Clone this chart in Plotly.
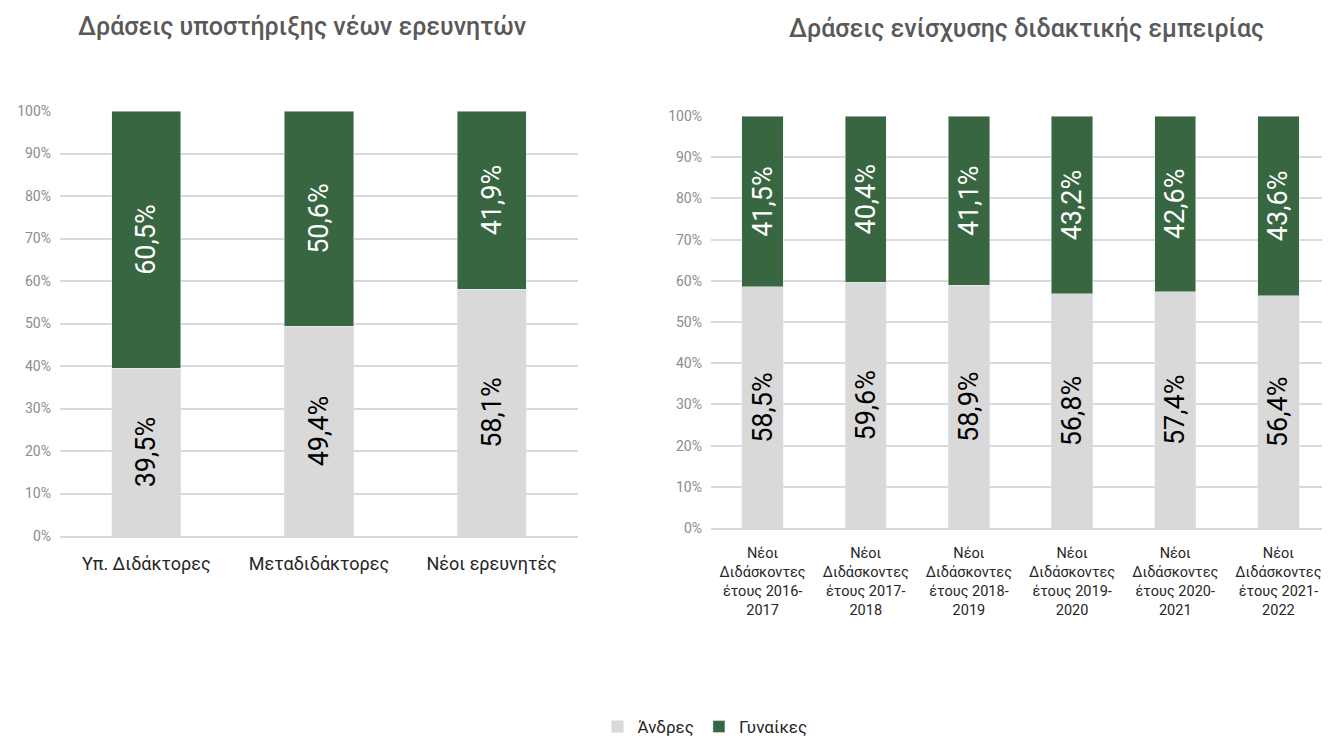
import plotly.graph_objects as go
from plotly.subplots import make_subplots

OFF = 8  # page body margin, positions below are screen pixels
W, H = 1330 - OFF, 745 - OFF

# left panel: support for young researchers
left_title = "Δράσεις υποστήριξης νέων ερευνητών"
left_cats = ["Υπ. Διδάκτορες", "Μεταδιδάκτορες", "Νέοι ερευνητές"]
left_men = [39.5, 49.4, 58.1]
left_women = [60.5, 50.6, 41.9]

# right panel: teaching experience
right_title = "Δράσεις ενίσχυσης διδακτικής εμπειρίας"
right_cats = [
    "Νέοι<br>Διδάσκοντες<br>έτους 2016-<br>2017",
    "Νέοι<br>Διδάσκοντες<br>έτους 2017-<br>2018",
    "Νέοι<br>Διδάσκοντες<br>έτους 2018-<br>2019",
    "Νέοι<br>Διδάσκοντες<br>έτους 2019-<br>2020",
    "Νέοι<br>Διδάσκοντες<br>έτους 2020-<br>2021",
    "Νέοι<br>Διδάσκοντες<br>έτους 2021-<br>2022",
]
right_men = [58.5, 59.6, 58.9, 56.8, 57.4, 56.4]
right_women = [41.5, 40.4, 41.1, 43.2, 42.6, 43.6]

series_names = ["Άνδρες", "Γυναίκες"]
GRAY = "#d9d9d9"
GREEN = "#386641"
FONT = "Roboto, Liberation Sans, sans-serif"


def px_x(x):
    return (x - OFF) / W


def px_y(y):
    return 1 - (y - OFF) / H


fig = make_subplots(rows=1, cols=2)

panels = [
    (1, left_cats, left_men, left_women, True),
    (2, right_cats, right_men, right_women, False),
]
for col, cats, men, women, show in panels:
    fig.add_trace(go.Bar(
        x=cats, y=men, name=series_names[0], marker_color=GRAY,
        texttemplate="%{y:.1f}%", textposition="inside", insidetextanchor="middle",
        textangle=-90, textfont=dict(size=27, color="#000000", family=FONT),
        showlegend=show, legendgroup="m", hoverinfo="skip",
    ), row=1, col=col)
    fig.add_trace(go.Bar(
        x=cats, y=women, name=series_names[1], marker_color=GREEN,
        texttemplate="%{y:.1f}%", textposition="inside", insidetextanchor="middle",
        textangle=-90, textfont=dict(size=27, color="#ffffff", family=FONT),
        showlegend=show, legendgroup="w", hoverinfo="skip",
    ), row=1, col=col)

yaxis_style = dict(
    range=[0, 100], dtick=10, ticksuffix="%",
    showgrid=True, gridcolor=GRAY, gridwidth=2,
    zeroline=False, showline=False, automargin=False,
    tickfont=dict(size=14, color="#8c8c8c", family=FONT),
    ticklabelstandoff=8, fixedrange=True,
)
xaxis_style = dict(showline=True, linecolor=GRAY, linewidth=2, ticks="",
                   automargin=False, fixedrange=True)

fig.update_layout(
    xaxis=dict(domain=[px_x(60), px_x(578)], ticklabelstandoff=10,
               tickfont=dict(size=18, color="#262626", family=FONT), **xaxis_style),
    yaxis=dict(domain=[px_y(536), px_y(111)], **yaxis_style),
    xaxis2=dict(domain=[px_x(711), 1.0], ticklabelstandoff=11,
                tickfont=dict(size=14.5, color="#262626", family=FONT), **xaxis_style),
    yaxis2=dict(domain=[px_y(528), px_y(116)], **yaxis_style),
)

fig.add_annotation(text=left_title, x=px_x(302), y=px_y(27), xref="paper", yref="paper",
                   xanchor="center", yanchor="middle", showarrow=False,
                   font=dict(size=25, color="#595959", family=FONT, weight=500))
fig.add_annotation(text=right_title, x=px_x(1026), y=px_y(29), xref="paper", yref="paper",
                   xanchor="center", yanchor="middle", showarrow=False,
                   font=dict(size=25, color="#595959", family=FONT, weight=500))

fig.update_layout(
    width=W, height=H,
    barmode="stack", bargap=0.6,
    separators=",.",
    plot_bgcolor="white", paper_bgcolor="white",
    margin=dict(l=0, r=0, t=0, b=0),
    font=dict(family=FONT),
    legend=dict(
        orientation="h", x=px_x(705), xanchor="center", y=0, yanchor="bottom",
        traceorder="normal", font=dict(size=17, color="#262626", family=FONT),
        itemwidth=30,
    ),
)

fig.write_html("out.html")
